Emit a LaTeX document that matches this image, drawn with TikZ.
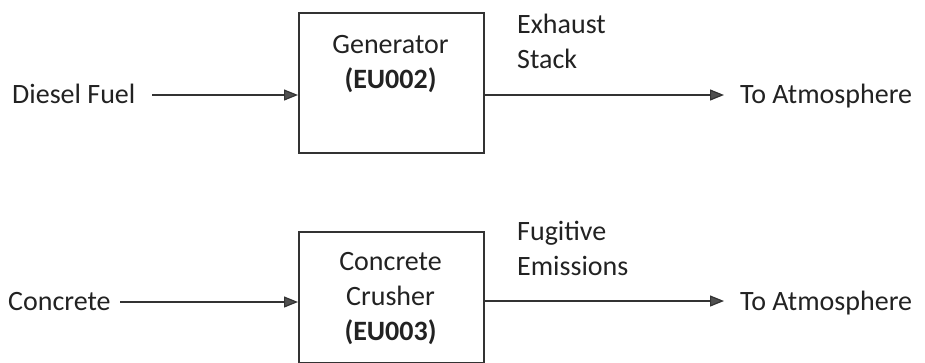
\documentclass[tikz,border=0pt]{standalone}
\usepackage{fontspec}
\setmainfont{Carlito}
\usetikzlibrary{arrows.meta}
\definecolor{ink}{HTML}{222222}
\definecolor{wire}{HTML}{333333}
\definecolor{tipfill}{HTML}{505050}
\tikzset{
  lbl/.style={inner sep=0pt, text=ink, font=\fontsize{28}{35}\selectfont},
  unitbox/.style={draw=wire, line width=1.6pt, inner sep=0pt, anchor=north west},
  flow/.style={draw=wire, line width=1.2pt,
    -{Triangle[length=14pt,width=11pt,fill=tipfill]}},
}
\begin{document}
\begin{tikzpicture}[x=1pt,y=-1pt]
  \useasboundingbox (0,0) rectangle (925,362);

  % Generator unit
  \node[unitbox, minimum width=185pt, minimum height=140pt] (gen) at (298,12) {};
  \node[lbl, anchor=base] (genA) at (390.5,53) {Generator};
  \node[lbl, anchor=base] (genB) at (390.5,88) {\bfseries (EU002)};
  \node[lbl, anchor=base west] (diesel) at (12,103) {Diesel Fuel};
  \node[lbl, anchor=base west] (exA) at (517,33) {Exhaust};
  \node[lbl, anchor=base west] (exB) at (517,68) {Stack};
  \node[lbl, anchor=base west] (atmA) at (740,103) {To Atmosphere};
  \coordinate (dieselEnd) at (152,95);
  \coordinate (genIn) at (298,95);
  \coordinate (genOut) at (483,95);
  \coordinate (atmAIn) at (724,95);
  \draw[flow] (dieselEnd) -- (genIn);
  \draw[flow] (genOut) -- (atmAIn);

  % Concrete crusher unit
  \node[unitbox, minimum width=185pt, minimum height=131pt] (cru) at (298,231) {};
  \node[lbl, anchor=base] (cruA) at (390.5,270) {Concrete};
  \node[lbl, anchor=base] (cruB) at (390.5,305) {Crusher};
  \node[lbl, anchor=base] (cruC) at (390.5,340) {\bfseries (EU003)};
  \node[lbl, anchor=base west] (conc) at (8,310) {Concrete};
  \node[lbl, anchor=base west] (fuA) at (517,240) {Fugitive};
  \node[lbl, anchor=base west] (fuB) at (517,275) {Emissions};
  \node[lbl, anchor=base west] (atmB) at (740,310) {To Atmosphere};
  \coordinate (concEnd) at (120,302);
  \coordinate (cruIn) at (298,302);
  \coordinate (cruOut) at (483,301);
  \coordinate (atmBIn) at (724,301);
  \draw[flow] (concEnd) -- (cruIn);
  \draw[flow] (cruOut) -- (atmBIn);
\end{tikzpicture}
\end{document}
